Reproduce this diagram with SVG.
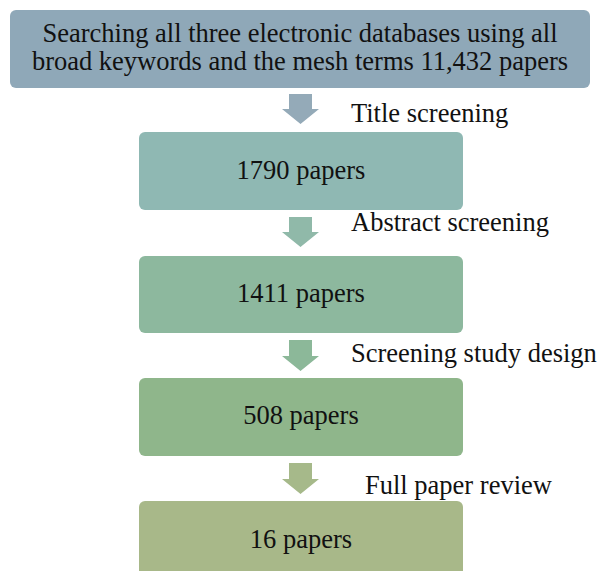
<svg xmlns="http://www.w3.org/2000/svg" width="599" height="571" viewBox="0 0 599 571">
<style>
text{font-family:"Liberation Serif","Times New Roman",serif;font-size:26.5px;fill:#111}
.c{text-anchor:middle}
</style>
<rect width="599" height="571" fill="#fff"/>
<g id="connectors">
<path d="M289,94 H312 V109 H319 L300.5,124 L282,109 H289 Z" fill="#94aab8"/>
<path d="M289,217 H312 V232 H319 L300.5,247 L282,232 H289 Z" fill="#90b9a9"/>
<path d="M289,340 H312 V356 H319 L300.5,371 L282,356 H289 Z" fill="#8cb899"/>
<path d="M289,463 H312 V479 H319 L300.5,494 L282,479 H289 Z" fill="#a6b98a"/>
<text x="351" y="122">Title screening</text>
<text x="351" y="231">Abstract screening</text>
<text x="351" y="362">Screening study design</text>
<text x="365" y="494">Full paper review</text>
</g>
<g id="n1"><rect x="10" y="10" width="580" height="78" rx="6" fill="#8fa8b8"/>
<text class="c" x="300" y="42">Searching all three electronic databases using all</text>
<text class="c" x="300" y="70">broad keywords and the mesh terms 11,432 papers</text></g>
<g id="n2"><rect x="139" y="132" width="324" height="78" rx="6" fill="#8fb8b3"/>
<text class="c" x="301" y="179">1790 papers</text></g>
<g id="n3"><rect x="139" y="256" width="324" height="77" rx="6" fill="#8db89e"/>
<text class="c" x="301" y="302">1411 papers</text></g>
<g id="n4"><rect x="139" y="378" width="324" height="78" rx="6" fill="#8fb68b"/>
<text class="c" x="301" y="424">508 papers</text></g>
<g id="n5"><rect x="139" y="501" width="324" height="78" rx="6" fill="#a8b889"/>
<text class="c" x="301" y="548">16 papers</text></g>
</svg>
